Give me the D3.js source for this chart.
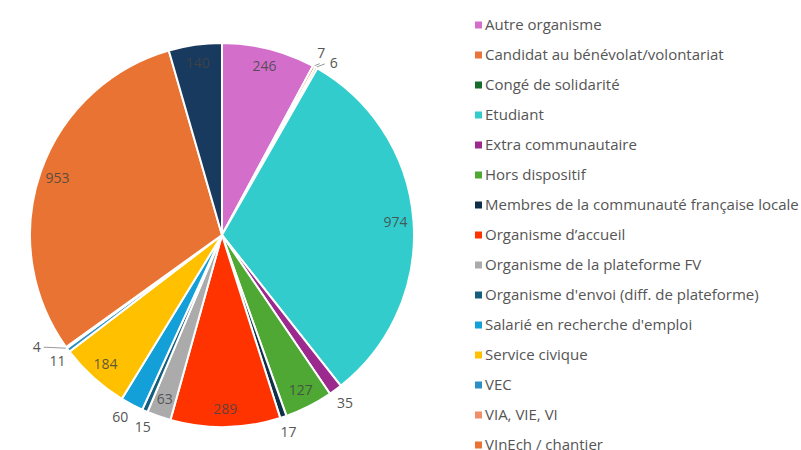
<!DOCTYPE html>
<html>
<head>
<meta charset="utf-8">
<script src="https://cdn.jsdelivr.net/npm/d3@7"></script>
<style>
  body { margin: 0; background: #fff; }
  svg { font-family: "Open Sans", "Lato", sans-serif; }
</style>
</head>
<body>
<div id="chart"></div>
<script>
var categories = ["Autre organisme", "Candidat au bénévolat/volontariat", "Congé de solidarité",
  "Etudiant", "Extra communautaire", "Hors dispositif", "Membres de la communauté française locale",
  "Organisme d\u2019accueil", "Organisme de la plateforme FV", "Organisme d'envoi (diff. de plateforme)",
  "Salarié en recherche d'emploi", "Service civique", "VEC", "VIA, VIE, VI", "VInEch / chantier", "VSI"];
var values = [246, 7, 6, 974, 35, 127, 17, 289, 63, 15, 60, 184, 11, 4, 953, 140];
var colors = ["#d36fcb", "#e8743b", "#176b2c", "#33cccc", "#9c2a8e", "#4ea833", "#10304a",
  "#ff3300", "#ababab", "#145e7e", "#139fd8", "#ffc000", "#2a8fc4", "#f08e6a", "#e87332", "#173a5e"];

var width = 801, height = 450;
var svg = d3.select("#chart").append("svg")
  .attr("width", width)
  .attr("height", height);

var cx = 222, cy = 235, r = 192;
var data = categories.map(function(c, i){ return {name: c, value: values[i], color: colors[i]}; });

var pie = d3.pie().sort(null).value(function(d){ return d.value; });
var arcs = pie(data);
var arc = d3.arc().innerRadius(0).outerRadius(r);

var g = svg.append("g").attr("transform", `translate(${cx},${cy})`);
g.selectAll("path")
  .data(arcs)
  .enter().append("path")
  .attr("d", arc)
  .attr("fill", function(d){ return d.data.color; })
  .attr("stroke", "#fff")
  .attr("stroke-width", 2);

function pt(a, rad){ return [Math.sin(a) * rad, -Math.cos(a) * rad]; }

// work out label positions first
var labels = arcs.map(function(d){
  var mid = (d.startAngle + d.endAngle) / 2;
  var inside = d.data.value >= 63;
  var lab = {v: d.data.value, inside: inside, p: pt(mid, inside ? 174 : 208), line: null, fixed: false};
  if (d.data.value < 10) {
    // tiny slices get a short leader line
    var s = pt(mid, r + 1), e;
    if (Math.sin(mid) < 0) {
      e = [s[0] - 22, s[1] - 1];
      lab.p = [e[0] - 7, e[1]];
    } else if (d.data.value === 6) {
      e = [s[0] + 8, s[1] - 3];
      lab.p = [e[0] + 9, e[1] - 1];
    } else {
      e = [s[0] + 5, s[1] - 2];
      lab.p = pt(mid, 207);
    }
    lab.line = [s, e];
    lab.fixed = true;
  }
  return lab;
});

// push outside labels apart a bit when they crowd each other
var outside = labels.filter(function(l){ return !l.inside; });
for (var it = 0; it < 20; it++) {
  for (var i = 0; i < outside.length; i++) {
    for (var j = i + 1; j < outside.length; j++) {
      var a = outside[i], b = outside[j];
      if (a.fixed && b.fixed) continue;
      var dx = b.p[0] - a.p[0], dy = b.p[1] - a.p[1];
      var dist = Math.sqrt(dx * dx + dy * dy);
      if (dist < 25 && dist > 0) {
        var push = (25 - dist) / dist;
        var wa = a.fixed ? 0 : (b.fixed ? 1 : 0.5);
        var wb = 1 - wa;
        a.p = [a.p[0] - dx * push * wa, a.p[1] - dy * push * wa];
        b.p = [b.p[0] + dx * push * wb, b.p[1] + dy * push * wb];
      }
    }
  }
}

labels.forEach(function(l){
  if (l.line) {
    g.append("line")
      .attr("x1", l.line[0][0]).attr("y1", l.line[0][1])
      .attr("x2", l.line[1][0]).attr("y2", l.line[1][1])
      .attr("stroke", "#999").attr("stroke-width", 1);
  }
  g.append("text")
    .attr("x", l.p[0]).attr("y", l.p[1])
    .attr("text-anchor", "middle")
    .attr("dy", "0.35em")
    .attr("font-size", 14)
    .attr("fill", l.inside ? "#444" : "#555")
    .attr("fill-opacity", l.inside ? 0.85 : 1)
    .text(l.v);
});

// legend
var legend = svg.append("g").attr("transform", "translate(475,25)");
var items = legend.selectAll("g")
  .data(data)
  .enter().append("g")
  .attr("transform", function(d, i){ return `translate(0,${i * 30})`; });
items.append("rect")
  .attr("x", 0).attr("y", -3.5)
  .attr("width", 7).attr("height", 7)
  .attr("fill", function(d){ return d.color; });
items.append("text")
  .attr("x", 10)
  .attr("dy", "0.35em")
  .attr("font-size", 15)
  .attr("fill", "#555")
  .text(function(d){ return d.name; });
</script>
</body>
</html>
